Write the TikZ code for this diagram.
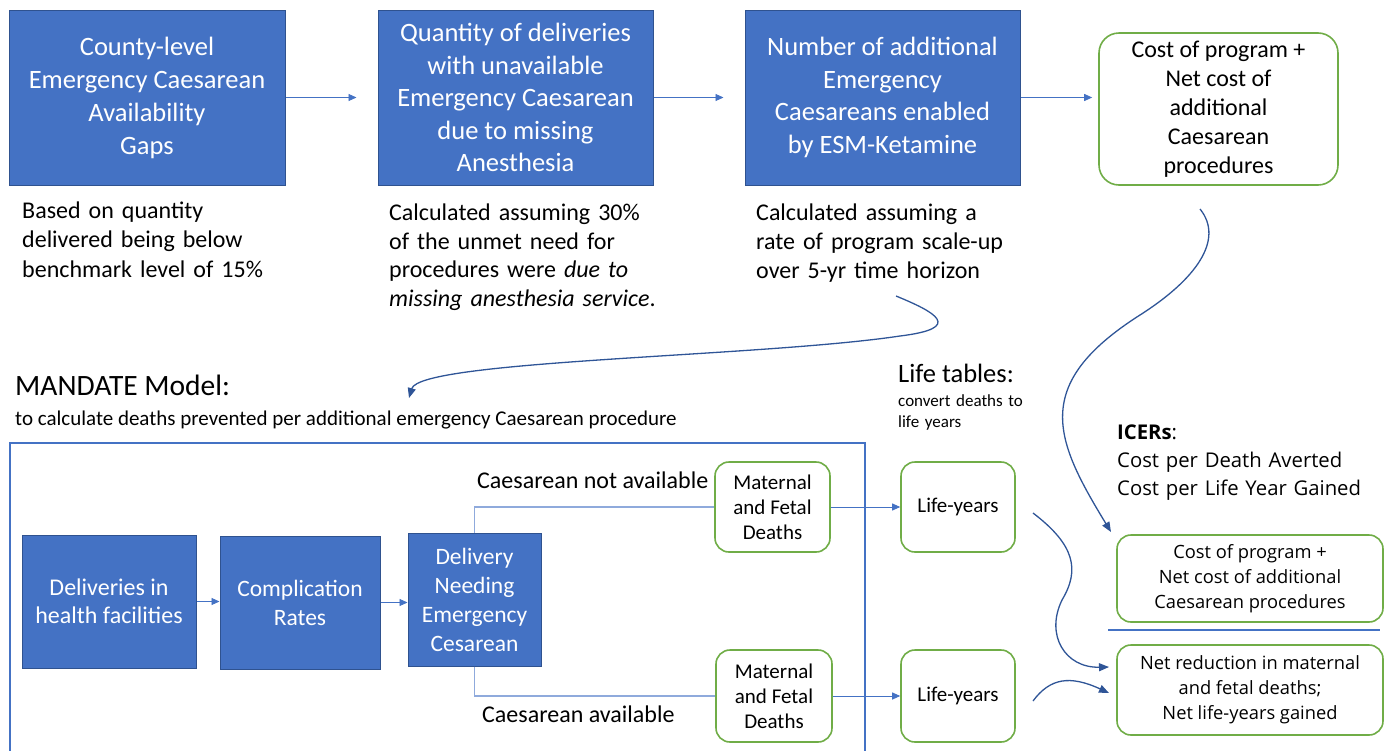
\documentclass[tikz,border=0pt]{standalone}
\usepackage{fontspec}
\setmainfont{Carlito}
\newfontfamily\osans{Open Sans}
\usetikzlibrary{arrows.meta}
\definecolor{cblue}{HTML}{4472C4}
\definecolor{cborder}{HTML}{2F528F}
\definecolor{cgreen}{HTML}{70AD47}
\definecolor{cdark}{HTML}{2F5597}
\definecolor{clight}{HTML}{8FAADC}
\newcommand\myfs[2]{\fontsize{#1}{#2}\selectfont}
\begin{document}
\begin{tikzpicture}[x=1pt,y=-1pt,
  bluebox/.style={rectangle,fill=cblue,draw=cborder,line width=1pt,text=white,align=center,inner sep=0pt},
  greenbox/.style={rectangle,rounded corners=14pt,draw=cgreen,line width=1.6pt,fill=white,align=center,inner sep=0pt},
  undertext/.style={anchor=base west,align=left,text width=300pt,inner sep=0pt},
  plaintext/.style={anchor=base west,inner sep=0pt},
  arr/.style={draw=cblue,line width=0.9pt,-{Triangle[length=8pt,width=7pt]}},
  branch/.style={draw=clight,line width=1.3pt},
  curv/.style={draw=cdark,line width=1.3pt,-{Triangle[length=10pt,width=8pt]}}]
\useasboundingbox (0,0) rectangle (1387,750);

% top row
\node[bluebox,minimum width=276pt,minimum height=175pt,font=\myfs{26.5}{33}] (b1) at (147,97.5)
  {County-level\\Emergency Caesarean\\Availability\\Gaps};
\node[bluebox,minimum width=275pt,minimum height=175pt,font=\myfs{26.5}{32.5}] (b2) at (515.5,97.5)
  {Quantity of deliveries\\with unavailable\\Emergency Caesarean\\due to missing\\Anesthesia};
\node[bluebox,minimum width=275pt,minimum height=175pt,font=\myfs{26.5}{32.7}] (b3) at (882.5,97.5)
  {Number of additional\\Emergency\\Caesareans enabled\\by ESM-Ketamine};
\node[greenbox,rounded corners=20pt,minimum width=239pt,minimum height=152pt,font=\myfs{24}{29}] (b4) at (1218.5,109)
  {Cost of program +\\Net cost of\\additional\\Caesarean\\procedures};

\draw[arr,shorten >=21pt] (b1.east) -- (b1.east -| b2.west);
\draw[arr,shorten >=21pt] (b2.east) -- (b2.east -| b3.west);
\draw[arr,shorten >=6pt] (b3.east) -- (b3.east -| b4.west);

\node[undertext,font=\myfs{24}{29.5}] (t1) at (22,218)
  {Based on quantity\\delivered being below\\benchmark level of 15\%};
\node[undertext,font=\myfs{24}{28.7}] (t2) at (389,220.5)
  {Calculated assuming 30\%\\of the unmet need for\\procedures were \textit{due to}\\\textit{missing anesthesia service}.};
\node[undertext,font=\myfs{24}{29}] (t3) at (756,220)
  {Calculated assuming a\\rate of program scale-up\\over 5-yr time horizon};

% section titles
\node[plaintext,font=\myfs{29.5}{35}] (mt) at (15,395.5) {MANDATE Model:};
\node[plaintext,font=\myfs{21}{25}] (ms) at (15,425.5)
  {to calculate deaths prevented per additional emergency Caesarean procedure};
\node[plaintext,font=\myfs{26.5}{30}] (lt) at (898,382.5) {Life tables:};
\node[undertext,text width=150pt,font=\myfs{17}{21}] (lts) at (898,406.5) {convert deaths to\\life years};
\node[undertext,text width=270pt,font=\osans\myfs{20.3}{28}] (ic) at (1117,439.5)
  {\textbf{ICERs}:\\Cost per Death Averted\\Cost per Life Year Gained};

% model frame
\draw[cblue,line width=1.5pt] (10,755) -- (10,443) -- (865,443) -- (865,755);

% model boxes
\node[bluebox,minimum width=174pt,minimum height=133pt,font=\myfs{24}{28}] (d1) at (109,601.5)
  {Deliveries in\\health facilities};
\node[bluebox,minimum width=160pt,minimum height=133pt,font=\myfs{23.5}{29}] (d2) at (300,602.5)
  {Complication\\Rates};
\node[bluebox,minimum width=133pt,minimum height=133pt,font=\myfs{23.5}{29}] (d3) at (474.5,599.5)
  {Delivery\\Needing\\Emergency\\Cesarean};
\draw[arr] (d1.east) -- (d1.east -| d2.west);
\draw[arr] (d2.east) -- (d2.east -| d3.west);

\node[greenbox,minimum width=115pt,minimum height=90pt,font=\myfs{21}{25}] (m1) at (772.5,507)
  {Maternal\\and Fetal\\Deaths};
\node[greenbox,minimum width=116pt,minimum height=92pt,font=\myfs{21}{25}] (m2) at (774,696)
  {Maternal\\and Fetal\\Deaths};
\node[greenbox,minimum width=114pt,minimum height=90pt,font=\myfs{21}{25}] (l1) at (958,507) {Life-years};
\node[greenbox,minimum width=114pt,minimum height=92pt,font=\myfs{21}{25}] (l2) at (958,696) {Life-years};

\draw[branch] (d3.north) |- (m1.west);
\draw[branch] (d3.south) |- (m2.west);
\node[plaintext,font=\myfs{24}{29}] (lna) at (477,488.5) {Caesarean not available};
\node[plaintext,font=\myfs{24}{29}] (la) at (482,722.5) {Caesarean available};

\draw[arr] (m1.east) -- (m1.east -| l1.west);
\draw[arr] (m2.east) -- (m2.east -| l2.west);

% result boxes
\node[greenbox,minimum width=266pt,minimum height=87pt,font=\osans\myfs{18.3}{25}] (r1) at (1250,578.5)
  {Cost of program +\\Net cost of additional\\Caesarean procedures};
\node[greenbox,minimum width=266pt,minimum height=90pt,font=\osans\myfs{18.3}{25}] (r2) at (1250,690)
  {Net reduction in maternal\\and fetal deaths;\\Net life-years gained};
\draw[cblue,line width=1.2pt] (1108,630) -- (1380,630);

% curved connectors
\coordinate (c1s) at (896,296);
\coordinate (c1e) at (409,398);
\coordinate (c2s) at (1200,209);
\coordinate (c2e) at (1111,532);
\coordinate (c3s) at (1033,513);
\coordinate (c3e) at (1109,667);
\coordinate (c4s) at (1033,701);
\coordinate (c4e) at (1109,693);
\draw[curv] (c1s) .. controls (935,312) and (965,328) .. (900,336) .. controls (760,357) and (420,360) .. (c1e);
\draw[curv] (c2s) .. controls (1225,240) and (1195,280) .. (1140,315) .. controls (1030,385) and (1055,440) .. (c2e);
\draw[curv] (c3s) .. controls (1075,545) and (1080,570) .. (1062,600) .. controls (1045,635) and (1065,668) .. (c3e);
\draw[curv] (c4s) .. controls (1050,678) and (1070,675) .. (c4e);
\end{tikzpicture}
\end{document}
